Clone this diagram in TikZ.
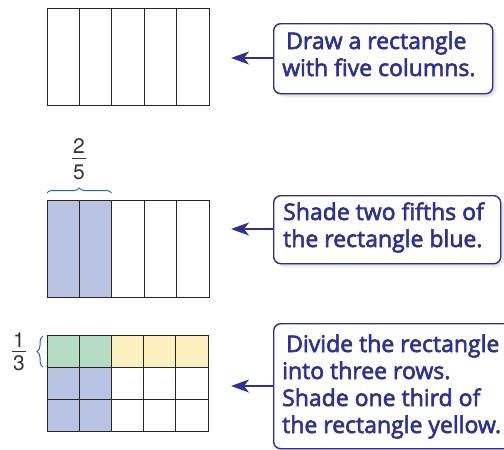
\documentclass[tikz,border=0pt]{standalone}
\usepackage{fontspec}
\setmainfont{Open Sans}
\newfontfamily\notefont[FakeBold=2.6]{Open Sans}
\newfontfamily\fracfont{TeX Gyre Heros}
\usetikzlibrary{arrows.meta,decorations.pathreplacing}
\definecolor{navy}{HTML}{2E3192}
\definecolor{bluefill}{HTML}{B8C3E1}
\definecolor{greenfill}{HTML}{B3DCC3}
\definecolor{yellowfill}{HTML}{FDF0C0}
\definecolor{bracecol}{HTML}{2565B5}
\definecolor{fraccol}{HTML}{333333}
\tikzset{
  notebox/.style={draw=navy, line width=1.4pt, rounded corners=7pt, fill=white,
    anchor=north west, inner sep=0pt},
  notetext/.style={text=navy, align=left, anchor=base west, inner sep=0pt,
    font=\notefont\fontsize{23}{27}\selectfont},
  pointer/.style={draw=navy, line width=1.8pt, -{Stealth[length=18pt,width=13pt,inset=5pt]}},
  gridline/.style={draw=black!85, line width=1pt},
  fracnum/.style={text=fraccol, font=\fracfont\fontsize{21}{23}\selectfont, inner sep=0pt},
  fracbar/.style={draw=fraccol, line width=0.9pt},
  shadowbox/.style={fill=black, opacity=0.06, rounded corners=8pt},
  bracedeco/.style={draw=bracecol, line width=1pt, decorate, decoration={brace, amplitude=#1}}
}
\begin{document}
\begin{tikzpicture}[x=1pt,y=-1pt]
\useasboundingbox (0,0) rectangle (504,450);
% ---------- rectangle 1
\foreach \i in {0,...,4} {\draw[gridline] (47+\i*32.4,8) rectangle (47+\i*32.4+32.4,105);}
\coordinate (r1) at (231,58);
% ---------- rectangle 2
\fill[bluefill] (47,200) rectangle (111.8,297);
\foreach \i in {0,...,4} {\draw[gridline] (47+\i*32.4,200) rectangle (47+\i*32.4+32.4,297);}
\coordinate (r2) at (231,229);
\draw[bracedeco=5pt] (47,193) -- (111.5,193);
\node[fracnum] (n2) at (79,146) {2};
\node[fracnum] (d2) at (79,172) {5};
\draw[fracbar] (72,158) -- (86,158);
% ---------- rectangle 3
\foreach \i in {0,1} {\foreach \j in {0,1,2} {\fill[bluefill] (47+\i*32.2,335+\j*32.3) rectangle ++(32.2,32.3);}}
\fill[greenfill] (47,335) rectangle (111.4,367.3);
\fill[yellowfill] (111.4,335) rectangle (208,367.3);
\foreach \i in {0,...,4} {\foreach \j in {0,1,2} {\draw[gridline] (47+\i*32.2,335+\j*32.3) rectangle ++(32.2,32.3);}}
\coordinate (r3) at (231,386);
\draw[bracedeco=6pt] (43,367) -- (43,336);
\node[fracnum] (n3) at (19,340.5) {1};
\node[fracnum] (d3) at (19,363.5) {3};
\draw[fracbar] (12,351.5) -- (26,351.5);
% ---------- shadows
\foreach \d in {1.5,3,4.5} {
  \fill[shadowbox] (273+\d,23+\d) rectangle (492+\d,93+\d);
  \fill[shadowbox] (273+\d,195+\d) rectangle (500+\d,263+\d);
  \fill[shadowbox] (273+\d,323+\d) rectangle (512+\d,448+\d);
}
% ---------- notes
\node[notebox, minimum width=219pt, minimum height=70pt] (b1) at (273,23) {};
\node[notetext] (t1) at (282,76) {\hspace*{4pt}Draw a rectangle\\with five columns.};
\node[notebox, minimum width=227pt, minimum height=68pt] (b2) at (273,195) {};
\node[notetext] (t2) at (283,247) {Shade two fifths of\\the rectangle blue.};
\node[notebox, minimum width=240pt, minimum height=125pt] (b3) at (273,323) {};
\node[notetext] (t3) at (282,433) {\hspace*{4pt}Divide the rectangle\\into three rows.\\Shade one third of\\the rectangle yellow.};
\draw[pointer] (b1.west |- r1) -- (r1);
\draw[pointer] (b2.west |- r2) -- (r2);
\draw[pointer] (b3.west |- r3) -- (r3);
\end{tikzpicture}
\end{document}
